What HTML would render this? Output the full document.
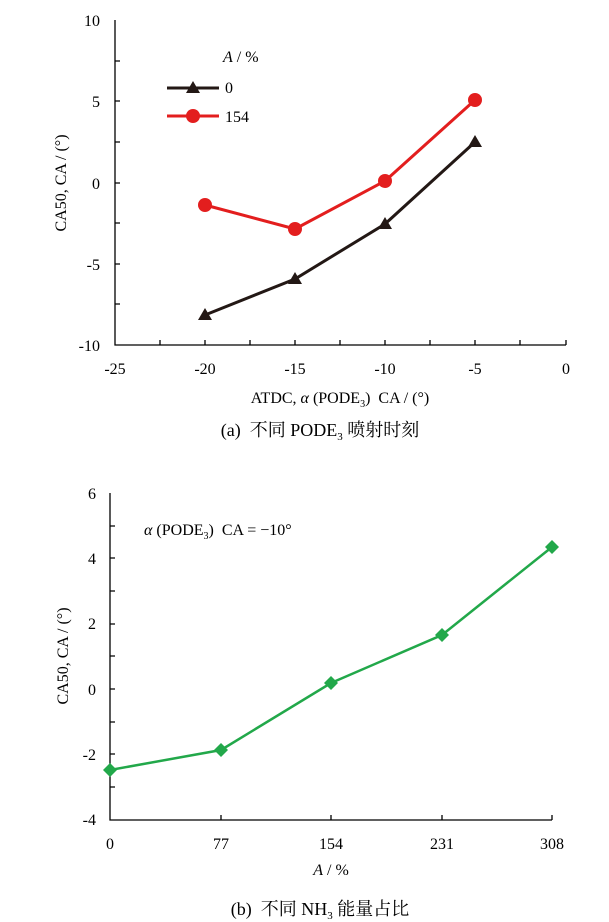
<!DOCTYPE html>
<html><head><meta charset="utf-8"><style>
html,body{margin:0;padding:0;background:#fff;}
svg{display:block;font-family:"Liberation Serif","Noto Serif CJK SC",serif;}
</style></head><body>
<svg width="609" height="922" viewBox="0 0 609 922" xmlns="http://www.w3.org/2000/svg">
<g stroke="#000" stroke-width="1.3" fill="none">
<path d="M115,20V345H566"/>
<path d="M115,61h5M115,101h5M115,142h5M115,183h5M115,223h5M115,264h5M115,304h5"/>
<path d="M160,345v-5M205,345v-5M250,345v-5M295,345v-5M340,345v-5M385,345v-5M430,345v-5M475,345v-5M520,345v-5M566,345v-5"/>
</g>
<g font-size="16" text-anchor="end" fill="#000">
<text x="100" y="26">10</text><text x="100" y="107">5</text><text x="100" y="189">0</text><text x="100" y="270">-5</text><text x="100" y="351">-10</text>
</g>
<g font-size="16" text-anchor="middle" fill="#000">
<text x="115" y="374">-25</text><text x="205" y="374">-20</text><text x="295" y="374">-15</text><text x="385" y="374">-10</text><text x="475" y="374">-5</text><text x="566" y="374">0</text>
<text x="340" y="403">ATDC, <tspan font-style="italic">α</tspan> (PODE<tspan font-size="10" dy="4">3</tspan><tspan dy="-4">)&#160;&#160;CA / (°)</tspan></text>
<text x="320" y="436" font-size="18">(a)&#160;&#160;不同 PODE<tspan font-size="11" dy="4">3</tspan><tspan dy="-4"> 喷射时刻</tspan></text>
</g>
<text transform="translate(66,183) rotate(-90)" font-size="16" text-anchor="middle">CA50, CA / (°)</text>
<text x="223" y="62" font-size="16"><tspan font-style="italic">A</tspan> / %</text>
<polyline points="167,88 219,88" stroke="#231815" stroke-width="3"/>
<polygon points="193,81 200,93 186,93" fill="#231815"/>
<text x="225" y="93" font-size="16">0</text>
<polyline points="167,116 219,116" stroke="#e31e1e" stroke-width="3"/>
<circle cx="193" cy="116" r="7" fill="#e31e1e"/>
<text x="225" y="122" font-size="16">154</text>
<polyline points="205,315 295,279 385,224 475,142" fill="none" stroke="#231815" stroke-width="3"/>
<g fill="#231815"><polygon points="205,308 212,320 198,320"/><polygon points="295,272 302,284 288,284"/><polygon points="385,217 392,229 378,229"/><polygon points="475,135 482,147 468,147"/></g>
<polyline points="205,205 295,229 385,181 475,100" fill="none" stroke="#e31e1e" stroke-width="3"/>
<g fill="#e31e1e"><circle cx="205" cy="205" r="7"/><circle cx="295" cy="229" r="7"/><circle cx="385" cy="181" r="7"/><circle cx="475" cy="100" r="7"/></g>

<g stroke="#000" stroke-width="1.3" fill="none">
<path d="M110,493V820H552"/>
<path d="M110,526h5M110,558h5M110,591h5M110,624h5M110,656h5M110,689h5M110,722h5M110,754h5M110,787h5"/>
<path d="M221,820v-5M331,820v-5M442,820v-5M552,820v-5"/>
</g>
<g font-size="16" text-anchor="end" fill="#000">
<text x="96" y="499">6</text><text x="96" y="564">4</text><text x="96" y="629">2</text><text x="96" y="695">0</text><text x="96" y="760">-2</text><text x="96" y="825">-4</text>
</g>
<g font-size="16" text-anchor="middle" fill="#000">
<text x="110" y="849">0</text><text x="221" y="849">77</text><text x="331" y="849">154</text><text x="442" y="849">231</text><text x="552" y="849">308</text>
<text x="331" y="875"><tspan font-style="italic">A</tspan> / %</text>
<text x="320" y="915" font-size="18">(b)&#160;&#160;不同 NH<tspan font-size="11" dy="4">3</tspan><tspan dy="-4"> 能量占比</tspan></text>
</g>
<text transform="translate(68,656) rotate(-90)" font-size="16" text-anchor="middle">CA50, CA / (°)</text>
<text x="144" y="535" font-size="16"><tspan font-style="italic">α</tspan> (PODE<tspan font-size="10" dy="4">3</tspan><tspan dy="-4">)&#160;&#160;CA = −10°</tspan></text>
<polyline points="110,770 221,750 331,683 442,635 552,547" fill="none" stroke="#22a84a" stroke-width="2.5"/>
<g fill="#22a84a"><polygon points="110,763 117,770 110,777 103,770"/><polygon points="221,743 228,750 221,757 214,750"/><polygon points="331,676 338,683 331,690 324,683"/><polygon points="442,628 449,635 442,642 435,635"/><polygon points="552,540 559,547 552,554 545,547"/></g>
</svg>
</body></html>
